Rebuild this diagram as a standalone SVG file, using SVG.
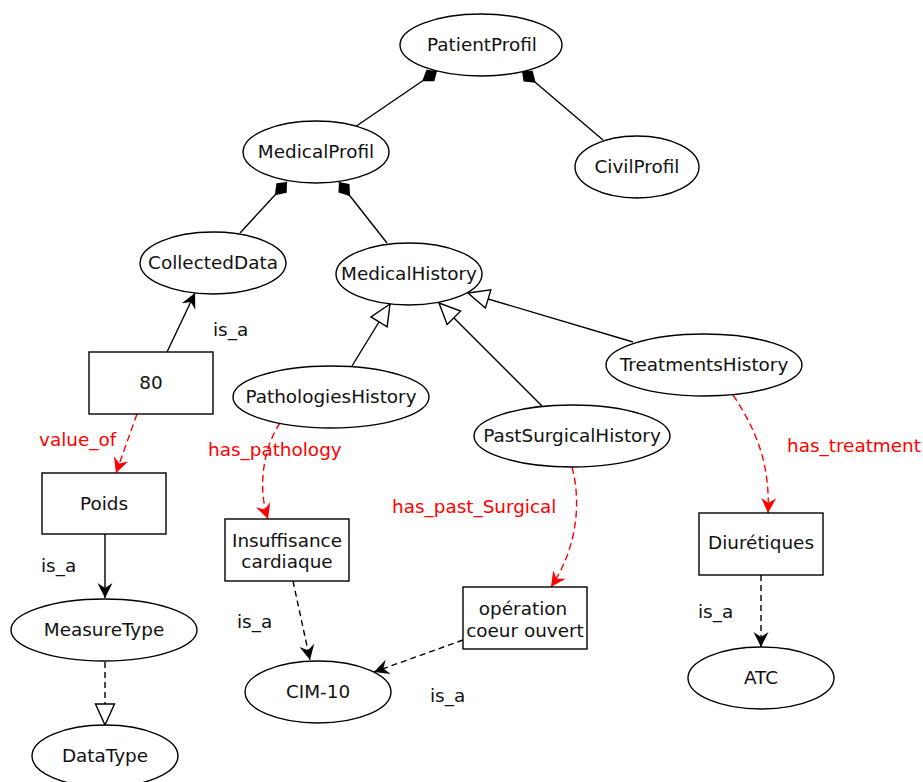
<svg xmlns="http://www.w3.org/2000/svg" width="923" height="782" viewBox="0 0 923 782">
<style>
.n ellipse,.n rect{fill:#fff;stroke:#000;stroke-width:1.4}
text{font-family:"DejaVu Sans","Liberation Sans",sans-serif;font-size:18.4px;fill:#111}
.n text{text-anchor:middle}
.red{fill:#ff0000}
.e{fill:none;stroke:#000;stroke-width:1.4}
.dash{stroke-dasharray:6,4}
.rd{fill:none;stroke:#ff0000;stroke-width:1.4;stroke-dasharray:7,4}
</style>
<defs>
<marker id="dia" markerUnits="userSpaceOnUse" markerWidth="22" markerHeight="18" refX="0" refY="0" viewBox="-1 -9 22 18" orient="auto">
<path d="M0,0 L8,-7 L18,0 L8,7 Z" fill="#000"/>
</marker>
<marker id="tri" markerUnits="userSpaceOnUse" markerWidth="26" markerHeight="24" refX="0" refY="0" viewBox="-24 -12 26 24" orient="auto">
<path d="M0,0 L-21,-9.5 L-21,9.5 Z" fill="#fff" stroke="#000" stroke-width="1.4"/>
</marker>
<marker id="arr" markerUnits="userSpaceOnUse" markerWidth="18" markerHeight="18" refX="0" refY="0" viewBox="-16 -9 18 18" orient="auto">
<path d="M0,0 L-15,-7.5 L-10,0 L-15,7.5 Z" fill="#000"/>
</marker>
<marker id="rarr" markerUnits="userSpaceOnUse" markerWidth="18" markerHeight="18" refX="0" refY="0" viewBox="-16 -9 18 18" orient="auto">
<path d="M0,0 L-15,-7.5 L-10,0 L-15,7.5 Z" fill="#ff0000"/>
</marker>
</defs>
<g id="connectors">
<path class="e" d="M437,71 L355,127" marker-start="url(#dia)"/>
<path class="e" d="M522,71 L603,140" marker-start="url(#dia)"/>
<path class="e" d="M287,182 L240,233" marker-start="url(#dia)"/>
<path class="e" d="M339,182 L387,243" marker-start="url(#dia)"/>
<path class="e" d="M352,366 L390,304" marker-end="url(#tri)"/>
<path class="e" d="M542,406 L439,303" marker-end="url(#tri)"/>
<path class="e" d="M633,342 L468,293" marker-end="url(#tri)"/>
<path class="e dash" d="M105,662 L105,725" marker-end="url(#tri)"/>
<path class="e" d="M167,352 L195,293" marker-end="url(#arr)"/>
<path class="e" d="M105,534 L105,598" marker-end="url(#arr)"/>
<path class="e dash" d="M293,581 L310,660" marker-end="url(#arr)"/>
<path class="e dash" d="M463,640 L374,672" marker-end="url(#arr)"/>
<path class="e dash" d="M761,575 L761,647" marker-end="url(#arr)"/>
<path class="rd" d="M137,414 L116,473" marker-end="url(#rarr)"/>
<path class="rd" d="M280,423 C262,450 258,490 268,519" marker-end="url(#rarr)"/>
<path class="rd" d="M572,467 C582,505 576,550 551,587" marker-end="url(#rarr)"/>
<path class="rd" d="M733,395 C760,435 770,470 768,513" marker-end="url(#rarr)"/>
<text x="213" y="336">is_a</text>
<text x="41" y="572">is_a</text>
<text x="237" y="628">is_a</text>
<text x="430" y="702">is_a</text>
<text x="698" y="618">is_a</text>
<text class="red" x="39" y="446">value_of</text>
<text class="red" x="208" y="456">has_pathology</text>
<text class="red" x="392" y="513">has_past_Surgical</text>
<text class="red" x="787" y="452">has_treatment</text>
</g>
<g id="PatientProfil" class="n"><ellipse cx="481" cy="45" rx="81" ry="31"/><text x="482" y="51">PatientProfil</text></g>
<g id="MedicalProfil" class="n"><ellipse cx="316" cy="152" rx="73" ry="31"/><text x="316" y="158">MedicalProfil</text></g>
<g id="CivilProfil" class="n"><ellipse cx="637" cy="167" rx="62" ry="31"/><text x="637" y="173">CivilProfil</text></g>
<g id="CollectedData" class="n"><ellipse cx="213" cy="263" rx="73" ry="31"/><text x="213" y="269">CollectedData</text></g>
<g id="MedicalHistory" class="n"><ellipse cx="409" cy="274" rx="73" ry="31"/><text x="409" y="280">MedicalHistory</text></g>
<g id="PathologiesHistory" class="n"><ellipse cx="331" cy="397" rx="98" ry="31"/><text x="331" y="403">PathologiesHistory</text></g>
<g id="PastSurgicalHistory" class="n"><ellipse cx="572" cy="436" rx="98" ry="31"/><text x="572" y="442">PastSurgicalHistory</text></g>
<g id="TreatmentsHistory" class="n"><ellipse cx="704" cy="365" rx="98" ry="31"/><text x="704" y="371">TreatmentsHistory</text></g>
<g id="v80" class="n"><rect x="89" y="352" width="124" height="62"/><text x="151" y="389">80</text></g>
<g id="Poids" class="n"><rect x="42" y="473" width="124" height="61"/><text x="104" y="510">Poids</text></g>
<g id="Insuffisance" class="n"><rect x="225" y="519" width="124" height="62"/><text x="287" y="547">Insuffisance</text><text x="287" y="568">cardiaque</text></g>
<g id="operation" class="n"><rect x="463" y="587" width="124" height="62"/><text x="523" y="615">opération</text><text x="525" y="637">coeur ouvert</text></g>
<g id="Diuretiques" class="n"><rect x="699" y="513" width="124" height="62"/><text x="761" y="549">Diurétiques</text></g>
<g id="MeasureType" class="n"><ellipse cx="104" cy="630" rx="93" ry="31"/><text x="104" y="636">MeasureType</text></g>
<g id="DataType" class="n"><ellipse cx="105" cy="756" rx="73" ry="31"/><text x="105" y="762">DataType</text></g>
<g id="CIM10" class="n"><ellipse cx="318" cy="692" rx="73" ry="31"/><text x="318" y="698">CIM-10</text></g>
<g id="ATC" class="n"><ellipse cx="761" cy="678" rx="73" ry="31"/><text x="761" y="684">ATC</text></g>
</svg>
